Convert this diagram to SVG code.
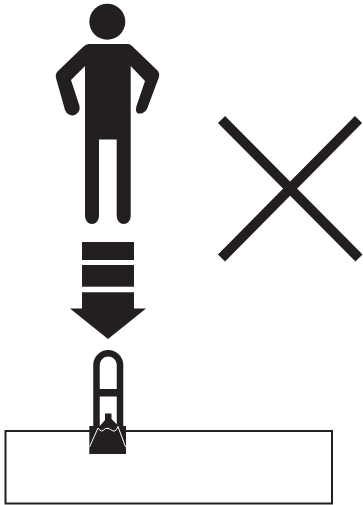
<svg xmlns="http://www.w3.org/2000/svg" width="363" height="505" viewBox="0 0 363 505">
<style>.k{fill:#231f20}.w{fill:none;stroke:#fff;stroke-width:1}.s{fill:none;stroke:#231f20}</style>
<rect width="363" height="505" fill="#fff"/>
<g id="person">
<circle class="k" cx="107.300" cy="21.700" r="18"/>
<path class="k" d="M89 44H128Q130 44 132 46L157 70Q160 73 159 77L147 109A8 8 0 0 1 137 113A8 8 0 0 1 136.500 106L145 81L130.700 66V216A7 8 0 0 1 116.700 216V139.500H99V216A7 8 0 0 1 85 216V66L71 80L79.500 106A8 8 0 0 1 75 115A8 8 0 0 1 65 110L56 78Q55 74 58 71L83 47Q86 44 89 44Z"/>
</g>
<g id="cross">
<path class="s" stroke-width="10" d="M221.500 119.500L359 258M358.500 119.500L221.500 258"/>
</g>
<g id="arrow">
<rect class="k" x="82" y="242" width="52" height="18"/>
<rect class="k" x="82" y="265" width="52" height="21.700"/>
<path class="k" d="M82 292.300H134V308.500H146L108 339L70 308.500H82Z"/>
</g>
<g id="box">
<rect x="5.500" y="431" width="326.500" height="72.500" fill="none" stroke="#231f20" stroke-width="2"/>
</g>
<g id="clip">
<path class="s" stroke-width="6.500" d="M96.500 426V364A11.800 11.800 0 0 1 120 364V426"/>
<rect class="k" x="96" y="389" width="25" height="7.500"/>
<rect class="k" x="89.300" y="426" width="36.700" height="28"/>
<path class="k" d="M105 413.500H111.500V419L118.500 426V431H98V428L105 420Z"/>
<path class="w" d="M89.500 447L98 428Q100 431 101.500 431Q103 431 105.500 428.500Q108 427.500 110.500 429.500Q113 431.500 115 431Q116.500 430 118 426.500L125.500 447"/>
</g>
</svg>
